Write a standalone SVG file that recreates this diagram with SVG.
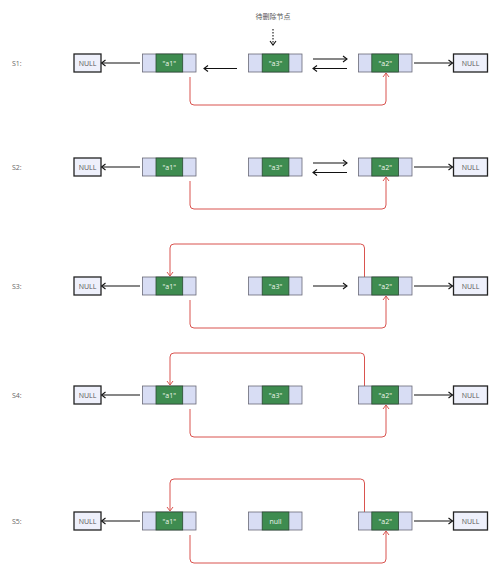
<svg xmlns="http://www.w3.org/2000/svg" width="500" height="579" viewBox="0 0 500 579">
<defs>
<marker id="ah" markerWidth="8" markerHeight="8" refX="7" refY="4" orient="auto" markerUnits="userSpaceOnUse"><path d="M3,1 L7,4 L3,7" fill="none" stroke="#111" stroke-width="1.1"/></marker>
<marker id="ahr" markerWidth="8" markerHeight="8" refX="7" refY="4" orient="auto" markerUnits="userSpaceOnUse"><path d="M3,1 L7,4 L3,7" fill="none" stroke="#d9534f" stroke-width="1"/></marker>
</defs>
<style>
.bg{fill:#ffffff}
.cell{fill:#d8ddf4;stroke:#6a6a78;stroke-width:0.8}
.data{fill:#3e8c50;stroke:#2b4b32;stroke-width:0.8}
.nullb{fill:#eef0fb;stroke:#222;stroke-width:1.3}
.t{font-family:"Open Sans","Noto Sans",sans-serif;font-size:7px;text-anchor:middle;font-weight:400}
.tw{fill:#eef6ee}
.tn{fill:#555}
.lbl{font-family:"Open Sans","Noto Sans",sans-serif;font-size:7px;fill:#666;font-weight:400}
.cap{font-family:"Noto Sans CJK SC","Noto Sans",sans-serif;font-size:7px;fill:#555;text-anchor:middle}
.k{fill:none;stroke:#111;stroke-width:1.1}
.r{fill:none;stroke:#d9534f;stroke-width:1}
</style>
<rect class="bg" x="0" y="0" width="500" height="579"/>
<text class="cap" x="273" y="19">待删除节点</text>
<g id="connectors">
<line x1="273" y1="29" x2="273" y2="45" stroke="#111" stroke-width="1.1" stroke-dasharray="1.5,1.5" marker-end="url(#ah)"/>
<!-- S1 -->
<line class="k" x1="140" y1="63" x2="101.5" y2="63" marker-end="url(#ah)"/>
<line class="k" x1="237" y1="68.5" x2="204" y2="68.5" marker-end="url(#ah)"/>
<line class="k" x1="313" y1="59" x2="347" y2="59" marker-end="url(#ah)"/>
<line class="k" x1="347" y1="68.5" x2="313" y2="68.5" marker-end="url(#ah)"/>
<line class="k" x1="414" y1="63" x2="452.5" y2="63" marker-end="url(#ah)"/>
<path class="r" d="M190,77 V101 Q190,105 194,105 H382 Q386,105 386,101 V73" marker-end="url(#ahr)"/>
<!-- S2 -->
<g transform="translate(0,104)">
<line class="k" x1="140" y1="63" x2="101.5" y2="63" marker-end="url(#ah)"/>
<line class="k" x1="313" y1="59" x2="347" y2="59" marker-end="url(#ah)"/>
<line class="k" x1="347" y1="68.5" x2="313" y2="68.5" marker-end="url(#ah)"/>
<line class="k" x1="414" y1="63" x2="452.5" y2="63" marker-end="url(#ah)"/>
<path class="r" d="M190,77 V101 Q190,105 194,105 H382 Q386,105 386,101 V73" marker-end="url(#ahr)"/>
</g>
<!-- S3 -->
<g transform="translate(0,223)">
<line class="k" x1="140" y1="63" x2="101.5" y2="63" marker-end="url(#ah)"/>
<line class="k" x1="313" y1="63" x2="347" y2="63" marker-end="url(#ah)"/>
<line class="k" x1="414" y1="63" x2="452.5" y2="63" marker-end="url(#ah)"/>
<path class="r" d="M190,77 V101 Q190,105 194,105 H382 Q386,105 386,101 V73" marker-end="url(#ahr)"/>
<path class="r" d="M364.5,54 V25 Q364.5,21 360.5,21 H174 Q170,21 170,25 V53" marker-end="url(#ahr)"/>
</g>
<!-- S4 -->
<g transform="translate(0,332)">
<line class="k" x1="140" y1="63" x2="101.5" y2="63" marker-end="url(#ah)"/>
<line class="k" x1="414" y1="63" x2="452.5" y2="63" marker-end="url(#ah)"/>
<path class="r" d="M190,77 V101 Q190,105 194,105 H382 Q386,105 386,101 V73" marker-end="url(#ahr)"/>
<path class="r" d="M364.5,54 V25 Q364.5,21 360.5,21 H174 Q170,21 170,25 V53" marker-end="url(#ahr)"/>
</g>
<!-- S5 -->
<g transform="translate(0,458)">
<line class="k" x1="140" y1="63" x2="101.5" y2="63" marker-end="url(#ah)"/>
<line class="k" x1="414" y1="63" x2="452.5" y2="63" marker-end="url(#ah)"/>
<path class="r" d="M190,77 V101 Q190,105 194,105 H382 Q386,105 386,101 V73" marker-end="url(#ahr)"/>
<path class="r" d="M364.5,54 V25 Q364.5,21 360.5,21 H174 Q170,21 170,25 V53" marker-end="url(#ahr)"/>
</g>
</g>
<!-- rows -->
<g id="row-s1">
<text class="lbl" x="12" y="65.5">S1:</text>
<g id="s1-null-l"><rect class="nullb" x="74" y="54" width="27" height="18"/><text class="t tn" x="87.5" y="65.5">NULL</text></g>
<g id="s1-a1"><rect class="cell" x="142.5" y="54" width="53.5" height="18"/><rect class="data" x="156" y="54" width="26.7" height="18"/><text class="t tw" x="169.3" y="65.5">"a1"</text></g>
<g id="s1-a3"><rect class="cell" x="248.5" y="54" width="53.5" height="18"/><rect class="data" x="262.2" y="54" width="26.7" height="18"/><text class="t tw" x="275.5" y="65.5">"a3"</text></g>
<g id="s1-a2"><rect class="cell" x="358.5" y="54" width="53.5" height="18"/><rect class="data" x="371.8" y="54" width="26.7" height="18"/><text class="t tw" x="385.2" y="65.5">"a2"</text></g>
<g id="s1-null-r"><rect class="nullb" x="453.5" y="54" width="34" height="18"/><text class="t tn" x="470.5" y="65.5">NULL</text></g>
</g>
<g id="row-s2" transform="translate(0,104)">
<text class="lbl" x="12" y="65.5">S2:</text>
<g id="s2-null-l"><rect class="nullb" x="74" y="54" width="27" height="18"/><text class="t tn" x="87.5" y="65.5">NULL</text></g>
<g id="s2-a1"><rect class="cell" x="142.5" y="54" width="53.5" height="18"/><rect class="data" x="156" y="54" width="26.7" height="18"/><text class="t tw" x="169.3" y="65.5">"a1"</text></g>
<g id="s2-a3"><rect class="cell" x="248.5" y="54" width="53.5" height="18"/><rect class="data" x="262.2" y="54" width="26.7" height="18"/><text class="t tw" x="275.5" y="65.5">"a3"</text></g>
<g id="s2-a2"><rect class="cell" x="358.5" y="54" width="53.5" height="18"/><rect class="data" x="371.8" y="54" width="26.7" height="18"/><text class="t tw" x="385.2" y="65.5">"a2"</text></g>
<g id="s2-null-r"><rect class="nullb" x="453.5" y="54" width="34" height="18"/><text class="t tn" x="470.5" y="65.5">NULL</text></g>
</g>
<g id="row-s3" transform="translate(0,223)">
<text class="lbl" x="12" y="65.5">S3:</text>
<g id="s3-null-l"><rect class="nullb" x="74" y="54" width="27" height="18"/><text class="t tn" x="87.5" y="65.5">NULL</text></g>
<g id="s3-a1"><rect class="cell" x="142.5" y="54" width="53.5" height="18"/><rect class="data" x="156" y="54" width="26.7" height="18"/><text class="t tw" x="169.3" y="65.5">"a1"</text></g>
<g id="s3-a3"><rect class="cell" x="248.5" y="54" width="53.5" height="18"/><rect class="data" x="262.2" y="54" width="26.7" height="18"/><text class="t tw" x="275.5" y="65.5">"a3"</text></g>
<g id="s3-a2"><rect class="cell" x="358.5" y="54" width="53.5" height="18"/><rect class="data" x="371.8" y="54" width="26.7" height="18"/><text class="t tw" x="385.2" y="65.5">"a2"</text></g>
<g id="s3-null-r"><rect class="nullb" x="453.5" y="54" width="34" height="18"/><text class="t tn" x="470.5" y="65.5">NULL</text></g>
</g>
<g id="row-s4" transform="translate(0,332)">
<text class="lbl" x="12" y="65.5">S4:</text>
<g id="s4-null-l"><rect class="nullb" x="74" y="54" width="27" height="18"/><text class="t tn" x="87.5" y="65.5">NULL</text></g>
<g id="s4-a1"><rect class="cell" x="142.5" y="54" width="53.5" height="18"/><rect class="data" x="156" y="54" width="26.7" height="18"/><text class="t tw" x="169.3" y="65.5">"a1"</text></g>
<g id="s4-a3"><rect class="cell" x="248.5" y="54" width="53.5" height="18"/><rect class="data" x="262.2" y="54" width="26.7" height="18"/><text class="t tw" x="275.5" y="65.5">"a3"</text></g>
<g id="s4-a2"><rect class="cell" x="358.5" y="54" width="53.5" height="18"/><rect class="data" x="371.8" y="54" width="26.7" height="18"/><text class="t tw" x="385.2" y="65.5">"a2"</text></g>
<g id="s4-null-r"><rect class="nullb" x="453.5" y="54" width="34" height="18"/><text class="t tn" x="470.5" y="65.5">NULL</text></g>
</g>
<g id="row-s5" transform="translate(0,458)">
<text class="lbl" x="12" y="65.5">S5:</text>
<g id="s5-null-l"><rect class="nullb" x="74" y="54" width="27" height="18"/><text class="t tn" x="87.5" y="65.5">NULL</text></g>
<g id="s5-a1"><rect class="cell" x="142.5" y="54" width="53.5" height="18"/><rect class="data" x="156" y="54" width="26.7" height="18"/><text class="t tw" x="169.3" y="65.5">"a1"</text></g>
<g id="s5-a3"><rect class="cell" x="248.5" y="54" width="53.5" height="18"/><rect class="data" x="262.2" y="54" width="26.7" height="18"/><text class="t tw" x="275.5" y="65.5">null</text></g>
<g id="s5-a2"><rect class="cell" x="358.5" y="54" width="53.5" height="18"/><rect class="data" x="371.8" y="54" width="26.7" height="18"/><text class="t tw" x="385.2" y="65.5">"a2"</text></g>
<g id="s5-null-r"><rect class="nullb" x="453.5" y="54" width="34" height="18"/><text class="t tn" x="470.5" y="65.5">NULL</text></g>
</g>
</svg>
